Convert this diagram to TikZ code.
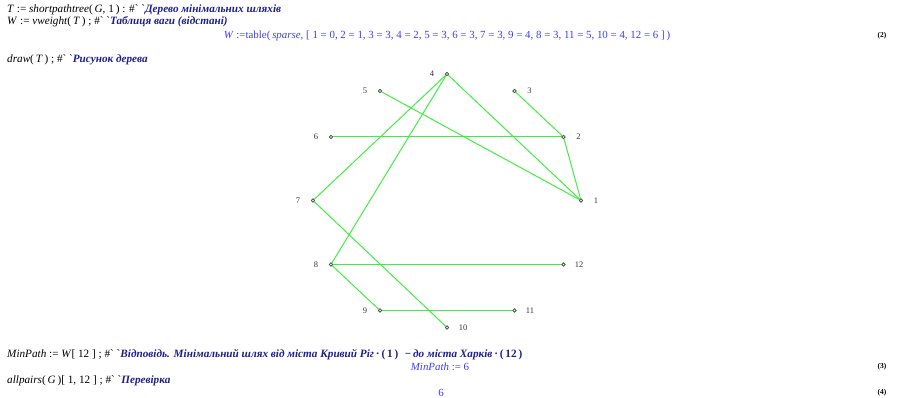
\documentclass[tikz,border=0pt]{standalone}
\usepackage{fontspec}
\setmainfont{Liberation Serif}[Ligatures=TeXOff]
\definecolor{edgegreen}{RGB}{64,238,64}
\definecolor{cmtblue}{RGB}{30,30,140}
\definecolor{outblue}{RGB}{60,60,255}
\definecolor{vtxcol}{RGB}{70,90,70}
\newcommand{\cmt}[1]{\textcolor{cmtblue}{\bfseries\itshape #1}}
\newcommand{\gr}{\symbol{96}}
\tikzset{
  txt/.style={anchor=west, inner sep=0pt, font=\fontsize{11.2}{12}\selectfont},
  outp/.style={anchor=center, inner sep=0pt, text=outblue, font=\fontsize{10.9}{12}\selectfont},
  eqn/.style={anchor=center, inner sep=0pt, font=\fontsize{7.5}{9}\selectfont\bfseries},
  vtx/.style={circle, draw=vtxcol, fill=white, line width=0.6pt, inner sep=0pt, minimum size=3.2pt},
  vlab/.style={inner sep=0pt, text=black!80, font=\fontsize{8.5}{9}\selectfont},
  edge/.style={draw=edgegreen, line width=1pt}
}
\begin{document}
\begin{tikzpicture}[x=1pt,y=-1pt]
\useasboundingbox (0,0) rectangle (898,398);
% text
\node[txt] (l1) at (7,10) {\textit{T} := \textit{shortpathtree}(\,\textit{G}, 1\,) : \#\gr{} \gr\cmt{Дерево мінімальних шляхів}};
\node[txt] (l2) at (7,22) {\textit{W} := \textit{vweight}(\,\textit{T}\,) ; \#\gr{} \gr\cmt{Таблиця ваги (відстані)}};
\node[outp] (l3) at (447,36) {\textit{W} :=table(\,\textit{sparse}, [ 1 = 0, 2 = 1, 3 = 3, 4 = 2, 5 = 3, 6 = 3, 7 = 3, 9 = 4, 8 = 3, 11 = 5, 10 = 4, 12 = 6 ]\,)};
\node[eqn] (e2) at (882,36) {(2)};
\node[txt] (l4) at (7,60) {\textit{draw}(\,\textit{T}\,) ; \#\gr{} \gr\cmt{Рисунок дерева}};
\node[txt] (l5) at (7,355) {\textit{MinPath} := \textit{W}[ 12 ] ; \#\gr{} \gr\cmt{Відповідь. Мінімальний шлях від міста Кривий Ріг}\textcolor{cmtblue}{\bfseries\,·\,(\,1\,)\, \,−\,\itshape до міста Харків\upshape\,·\,(\,12\,)}};
\node[outp] (l6) at (440,367) {\textit{MinPath} := 6};
\node[eqn] (e3) at (882,367) {(3)};
\node[txt] (l7) at (7,381) {\textit{allpairs}(\,\textit{G}\,)[ 1, 12 ] ; \#\gr{} \gr\cmt{Перевірка}};
\node[outp] (l8) at (441,393) {6};
\node[eqn] (e4) at (882,393) {(4)};
% vertices
\node[vtx] (v1) at (581,200.5) {};
\node[vtx] (v2) at (563.5,137) {};
\node[vtx] (v3) at (514.5,91) {};
\node[vtx] (v4) at (447,74) {};
\node[vtx] (v5) at (380,91) {};
\node[vtx] (v6) at (331,137) {};
\node[vtx] (v7) at (313,200.5) {};
\node[vtx] (v8) at (331,264.5) {};
\node[vtx] (v9) at (380,310.5) {};
\node[vtx] (v10) at (447,327.5) {};
\node[vtx] (v11) at (514.5,310.5) {};
\node[vtx] (v12) at (563.5,264.5) {};
% edges
\draw[edge] (v4) -- (v7);
\draw[edge] (v4) -- (v8);
\draw[edge] (v4) -- (v1);
\draw[edge] (v5) -- (v1);
\draw[edge] (v3) -- (v2);
\draw[edge] (v6) -- (v2);
\draw[edge] (v2) -- (v1);
\draw[edge] (v7) -- (v10);
\draw[edge] (v8) -- (v12);
\draw[edge] (v8) -- (v9);
\draw[edge] (v9) -- (v11);
% redraw vertex markers on top
\foreach \v in {v1,v2,v3,v4,v5,v6,v7,v8,v9,v10,v11,v12}
  \draw[draw=vtxcol, fill=white, line width=0.6pt] (\v.center) circle (1.6);
% labels
\node[vlab] (t1) at (596,200.5) {1};
\node[vlab] (t2) at (578.5,137) {2};
\node[vlab] (t3) at (529.5,91) {3};
\node[vlab] (t4) at (432,74) {4};
\node[vlab] (t5) at (365,91) {5};
\node[vlab] (t6) at (316,137) {6};
\node[vlab] (t7) at (298,200.5) {7};
\node[vlab] (t8) at (316,264.5) {8};
\node[vlab] (t9) at (365,310.5) {9};
\node[vlab] (t10) at (463,327.5) {10};
\node[vlab] (t11) at (530,310.5) {11};
\node[vlab] (t12) at (579,264.5) {12};
\end{tikzpicture}
\end{document}
